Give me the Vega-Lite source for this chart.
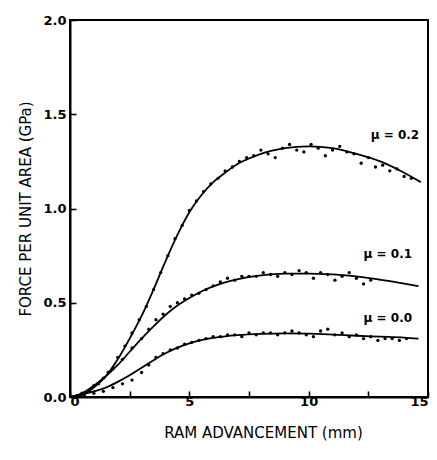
{
  "$schema": "https://vega.github.io/schema/vega-lite/v6.json",
  "autosize": {"type": "none"},
  "padding": {"left": 70, "top": 20, "right": 9, "bottom": 63},
  "width": 358,
  "height": 377,
  "background": "white",
  "config": {
    "view": {"stroke": "black", "strokeWidth": 2},
    "axis": {
      "grid": false,
      "domainColor": "black",
      "domainWidth": 2,
      "tickColor": "black",
      "tickWidth": 1.6,
      "tickSize": -6,
      "labelFont": "DejaVu Sans",
      "labelFontWeight": "bold",
      "labelFontSize": 13,
      "labelColor": "black",
      "titleFont": "DejaVu Sans",
      "titleFontWeight": "normal",
      "titleFontSize": 15,
      "titleColor": "black"
    }
  },
  "datasets": {
    "curves": [
      {"mu": "0.2", "x": 0, "y": 0}, {"mu": "0.2", "x": 0.5, "y": 0.01}, {"mu": "0.2", "x": 1, "y": 0.05}, {"mu": "0.2", "x": 1.5, "y": 0.11},
      {"mu": "0.2", "x": 2, "y": 0.2}, {"mu": "0.2", "x": 2.5, "y": 0.31}, {"mu": "0.2", "x": 3, "y": 0.43}, {"mu": "0.2", "x": 3.5, "y": 0.57},
      {"mu": "0.2", "x": 4, "y": 0.72}, {"mu": "0.2", "x": 4.5, "y": 0.86}, {"mu": "0.2", "x": 5, "y": 0.98}, {"mu": "0.2", "x": 5.5, "y": 1.07},
      {"mu": "0.2", "x": 6, "y": 1.14}, {"mu": "0.2", "x": 6.5, "y": 1.19}, {"mu": "0.2", "x": 7, "y": 1.235}, {"mu": "0.2", "x": 7.5, "y": 1.265},
      {"mu": "0.2", "x": 8, "y": 1.29}, {"mu": "0.2", "x": 9, "y": 1.32}, {"mu": "0.2", "x": 10, "y": 1.33}, {"mu": "0.2", "x": 11, "y": 1.32},
      {"mu": "0.2", "x": 12, "y": 1.29}, {"mu": "0.2", "x": 13, "y": 1.25}, {"mu": "0.2", "x": 14, "y": 1.19}, {"mu": "0.2", "x": 14.7, "y": 1.14},
      {"mu": "0.1", "x": 0, "y": 0}, {"mu": "0.1", "x": 0.5, "y": 0.02}, {"mu": "0.1", "x": 1, "y": 0.06}, {"mu": "0.1", "x": 1.5, "y": 0.11},
      {"mu": "0.1", "x": 2, "y": 0.17}, {"mu": "0.1", "x": 2.5, "y": 0.24}, {"mu": "0.1", "x": 3, "y": 0.31}, {"mu": "0.1", "x": 3.5, "y": 0.375},
      {"mu": "0.1", "x": 4, "y": 0.435}, {"mu": "0.1", "x": 4.5, "y": 0.485}, {"mu": "0.1", "x": 5, "y": 0.525}, {"mu": "0.1", "x": 5.5, "y": 0.56},
      {"mu": "0.1", "x": 6, "y": 0.587}, {"mu": "0.1", "x": 6.5, "y": 0.608}, {"mu": "0.1", "x": 7, "y": 0.624}, {"mu": "0.1", "x": 8, "y": 0.645},
      {"mu": "0.1", "x": 9, "y": 0.655}, {"mu": "0.1", "x": 10, "y": 0.655}, {"mu": "0.1", "x": 11, "y": 0.65}, {"mu": "0.1", "x": 12, "y": 0.64},
      {"mu": "0.1", "x": 13, "y": 0.622}, {"mu": "0.1", "x": 14, "y": 0.602}, {"mu": "0.1", "x": 14.6, "y": 0.588},
      {"mu": "0.0", "x": 0, "y": 0}, {"mu": "0.0", "x": 1, "y": 0.03}, {"mu": "0.0", "x": 1.5, "y": 0.05}, {"mu": "0.0", "x": 2, "y": 0.08},
      {"mu": "0.0", "x": 2.5, "y": 0.115}, {"mu": "0.0", "x": 3, "y": 0.155}, {"mu": "0.0", "x": 3.5, "y": 0.195}, {"mu": "0.0", "x": 4, "y": 0.232},
      {"mu": "0.0", "x": 4.5, "y": 0.262}, {"mu": "0.0", "x": 5, "y": 0.285}, {"mu": "0.0", "x": 5.5, "y": 0.302}, {"mu": "0.0", "x": 6, "y": 0.314},
      {"mu": "0.0", "x": 6.5, "y": 0.322}, {"mu": "0.0", "x": 7, "y": 0.328}, {"mu": "0.0", "x": 8, "y": 0.335}, {"mu": "0.0", "x": 9, "y": 0.338},
      {"mu": "0.0", "x": 10, "y": 0.336}, {"mu": "0.0", "x": 11, "y": 0.331}, {"mu": "0.0", "x": 12, "y": 0.325}, {"mu": "0.0", "x": 13, "y": 0.32},
      {"mu": "0.0", "x": 14, "y": 0.315}, {"mu": "0.0", "x": 14.6, "y": 0.31}
    ],
    "dots": [
      {"mu": "0.2", "x": 0.4, "y": 0.01}, {"mu": "0.2", "x": 0.8, "y": 0.03}, {"mu": "0.2", "x": 1.2, "y": 0.07}, {"mu": "0.2", "x": 1.6, "y": 0.13},
      {"mu": "0.2", "x": 2.0, "y": 0.21}, {"mu": "0.2", "x": 2.3, "y": 0.27}, {"mu": "0.2", "x": 2.6, "y": 0.34}, {"mu": "0.2", "x": 2.9, "y": 0.41},
      {"mu": "0.2", "x": 3.2, "y": 0.48}, {"mu": "0.2", "x": 3.5, "y": 0.57}, {"mu": "0.2", "x": 3.8, "y": 0.66}, {"mu": "0.2", "x": 4.1, "y": 0.75},
      {"mu": "0.2", "x": 4.4, "y": 0.84}, {"mu": "0.2", "x": 4.7, "y": 0.91}, {"mu": "0.2", "x": 5.0, "y": 0.99}, {"mu": "0.2", "x": 5.3, "y": 1.04},
      {"mu": "0.2", "x": 5.6, "y": 1.09}, {"mu": "0.2", "x": 5.9, "y": 1.13}, {"mu": "0.2", "x": 6.2, "y": 1.16}, {"mu": "0.2", "x": 6.5, "y": 1.2},
      {"mu": "0.2", "x": 6.8, "y": 1.22}, {"mu": "0.2", "x": 7.1, "y": 1.25}, {"mu": "0.2", "x": 7.4, "y": 1.27}, {"mu": "0.2", "x": 7.7, "y": 1.28},
      {"mu": "0.2", "x": 8.0, "y": 1.31}, {"mu": "0.2", "x": 8.3, "y": 1.29}, {"mu": "0.2", "x": 8.6, "y": 1.27}, {"mu": "0.2", "x": 8.9, "y": 1.32},
      {"mu": "0.2", "x": 9.2, "y": 1.34}, {"mu": "0.2", "x": 9.5, "y": 1.31}, {"mu": "0.2", "x": 9.8, "y": 1.3}, {"mu": "0.2", "x": 10.1, "y": 1.34},
      {"mu": "0.2", "x": 10.4, "y": 1.32}, {"mu": "0.2", "x": 10.7, "y": 1.28}, {"mu": "0.2", "x": 11.0, "y": 1.31}, {"mu": "0.2", "x": 11.3, "y": 1.33},
      {"mu": "0.2", "x": 11.6, "y": 1.3}, {"mu": "0.2", "x": 11.9, "y": 1.29}, {"mu": "0.2", "x": 12.2, "y": 1.24}, {"mu": "0.2", "x": 12.5, "y": 1.27},
      {"mu": "0.2", "x": 12.8, "y": 1.22}, {"mu": "0.2", "x": 13.1, "y": 1.23}, {"mu": "0.2", "x": 13.4, "y": 1.2}, {"mu": "0.2", "x": 13.7, "y": 1.21},
      {"mu": "0.2", "x": 14.0, "y": 1.17}, {"mu": "0.2", "x": 14.3, "y": 1.16},
      {"mu": "0.1", "x": 0.5, "y": 0.02}, {"mu": "0.1", "x": 1.0, "y": 0.06}, {"mu": "0.1", "x": 1.4, "y": 0.1}, {"mu": "0.1", "x": 1.8, "y": 0.15},
      {"mu": "0.1", "x": 2.2, "y": 0.2}, {"mu": "0.1", "x": 2.6, "y": 0.26}, {"mu": "0.1", "x": 3.0, "y": 0.31}, {"mu": "0.1", "x": 3.3, "y": 0.36},
      {"mu": "0.1", "x": 3.6, "y": 0.41}, {"mu": "0.1", "x": 3.9, "y": 0.44}, {"mu": "0.1", "x": 4.2, "y": 0.48}, {"mu": "0.1", "x": 4.5, "y": 0.5},
      {"mu": "0.1", "x": 4.8, "y": 0.52}, {"mu": "0.1", "x": 5.1, "y": 0.54}, {"mu": "0.1", "x": 5.4, "y": 0.55}, {"mu": "0.1", "x": 5.7, "y": 0.57},
      {"mu": "0.1", "x": 6.0, "y": 0.59}, {"mu": "0.1", "x": 6.3, "y": 0.61}, {"mu": "0.1", "x": 6.6, "y": 0.63}, {"mu": "0.1", "x": 6.9, "y": 0.62},
      {"mu": "0.1", "x": 7.2, "y": 0.64}, {"mu": "0.1", "x": 7.5, "y": 0.64}, {"mu": "0.1", "x": 7.8, "y": 0.64}, {"mu": "0.1", "x": 8.1, "y": 0.66},
      {"mu": "0.1", "x": 8.4, "y": 0.65}, {"mu": "0.1", "x": 8.7, "y": 0.64}, {"mu": "0.1", "x": 9.0, "y": 0.66}, {"mu": "0.1", "x": 9.3, "y": 0.65},
      {"mu": "0.1", "x": 9.6, "y": 0.67}, {"mu": "0.1", "x": 9.9, "y": 0.66}, {"mu": "0.1", "x": 10.2, "y": 0.63}, {"mu": "0.1", "x": 10.5, "y": 0.66},
      {"mu": "0.1", "x": 10.8, "y": 0.65}, {"mu": "0.1", "x": 11.1, "y": 0.62}, {"mu": "0.1", "x": 11.4, "y": 0.64}, {"mu": "0.1", "x": 11.7, "y": 0.66},
      {"mu": "0.1", "x": 12.0, "y": 0.63}, {"mu": "0.1", "x": 12.3, "y": 0.6}, {"mu": "0.1", "x": 12.6, "y": 0.62},
      {"mu": "0.0", "x": 0.6, "y": 0.01}, {"mu": "0.0", "x": 1.0, "y": 0.02}, {"mu": "0.0", "x": 1.4, "y": 0.03}, {"mu": "0.0", "x": 1.8, "y": 0.05},
      {"mu": "0.0", "x": 2.2, "y": 0.07}, {"mu": "0.0", "x": 2.6, "y": 0.09}, {"mu": "0.0", "x": 3.0, "y": 0.13}, {"mu": "0.0", "x": 3.3, "y": 0.17},
      {"mu": "0.0", "x": 3.6, "y": 0.21}, {"mu": "0.0", "x": 3.9, "y": 0.23}, {"mu": "0.0", "x": 4.2, "y": 0.25}, {"mu": "0.0", "x": 4.5, "y": 0.26},
      {"mu": "0.0", "x": 4.8, "y": 0.28}, {"mu": "0.0", "x": 5.1, "y": 0.29}, {"mu": "0.0", "x": 5.4, "y": 0.3}, {"mu": "0.0", "x": 5.7, "y": 0.31},
      {"mu": "0.0", "x": 6.0, "y": 0.32}, {"mu": "0.0", "x": 6.3, "y": 0.32}, {"mu": "0.0", "x": 6.6, "y": 0.33}, {"mu": "0.0", "x": 6.9, "y": 0.33},
      {"mu": "0.0", "x": 7.2, "y": 0.32}, {"mu": "0.0", "x": 7.5, "y": 0.34}, {"mu": "0.0", "x": 7.8, "y": 0.33}, {"mu": "0.0", "x": 8.1, "y": 0.34},
      {"mu": "0.0", "x": 8.4, "y": 0.34}, {"mu": "0.0", "x": 8.7, "y": 0.33}, {"mu": "0.0", "x": 9.0, "y": 0.34}, {"mu": "0.0", "x": 9.3, "y": 0.35},
      {"mu": "0.0", "x": 9.6, "y": 0.34}, {"mu": "0.0", "x": 9.9, "y": 0.33}, {"mu": "0.0", "x": 10.2, "y": 0.32}, {"mu": "0.0", "x": 10.5, "y": 0.35},
      {"mu": "0.0", "x": 10.8, "y": 0.36}, {"mu": "0.0", "x": 11.1, "y": 0.33}, {"mu": "0.0", "x": 11.4, "y": 0.34}, {"mu": "0.0", "x": 11.7, "y": 0.32},
      {"mu": "0.0", "x": 12.0, "y": 0.33}, {"mu": "0.0", "x": 12.3, "y": 0.31}, {"mu": "0.0", "x": 12.6, "y": 0.32}, {"mu": "0.0", "x": 12.9, "y": 0.3},
      {"mu": "0.0", "x": 13.2, "y": 0.31}, {"mu": "0.0", "x": 13.5, "y": 0.31}, {"mu": "0.0", "x": 13.8, "y": 0.3}, {"mu": "0.0", "x": 14.1, "y": 0.31}
    ],
    "labels": [
      {"x": 12.6, "y": 1.39, "label": "μ = 0.2"},
      {"x": 12.3, "y": 0.76, "label": "μ = 0.1"},
      {"x": 12.3, "y": 0.42, "label": "μ = 0.0"}
    ]
  },
  "layer": [
    {
      "data": {"name": "curves"},
      "mark": {"type": "line", "interpolate": "monotone", "color": "black", "strokeWidth": 1.8},
      "encoding": {
        "x": {
          "field": "x", "type": "quantitative",
          "scale": {"domain": [0, 15], "nice": false},
          "axis": {
            "title": "RAM ADVANCEMENT (mm)",
            "values": [0, 2.5, 5, 7.5, 10, 12.5, 15],
            "labelExpr": "datum.value % 5 === 0 ? datum.label : ''",
            "format": "~g",
            "labelPadding": 4,
            "titlePadding": 17,
            "titleX": 193
          }
        },
        "y": {
          "field": "y", "type": "quantitative",
          "scale": {"domain": [0, 2], "nice": false},
          "axis": {
            "title": "FORCE PER UNIT AREA (GPa)",
            "values": [0, 0.5, 1, 1.5, 2],
            "format": ".1f",
            "labelPadding": 10,
            "titlePadding": 9
          }
        },
        "detail": {"field": "mu"}
      }
    },
    {
      "data": {"name": "dots"},
      "mark": {"type": "circle", "color": "black", "size": 11, "opacity": 1},
      "encoding": {
        "x": {"field": "x", "type": "quantitative"},
        "y": {"field": "y", "type": "quantitative"}
      }
    },
    {
      "data": {"name": "labels"},
      "mark": {"type": "text", "align": "left", "baseline": "middle", "font": "DejaVu Sans", "fontWeight": "bold", "fontSize": 12, "color": "black"},
      "encoding": {
        "x": {"field": "x", "type": "quantitative"},
        "y": {"field": "y", "type": "quantitative"},
        "text": {"field": "label"}
      }
    }
  ]
}
